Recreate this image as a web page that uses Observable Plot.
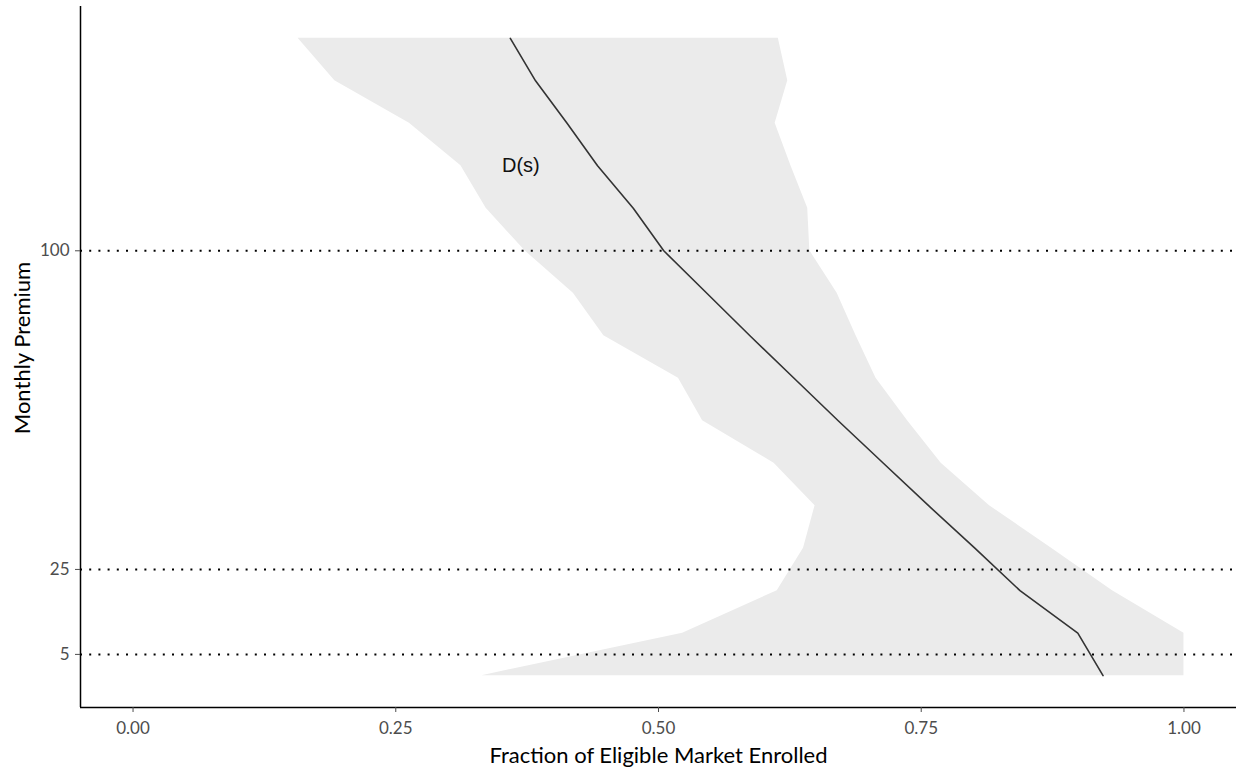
<!DOCTYPE html>
<html>
<head>
<meta charset="utf-8">
<script src="https://cdn.jsdelivr.net/npm/d3@7"></script>
<script src="https://cdn.jsdelivr.net/npm/@observablehq/plot@0.6"></script>
<style>
  html, body { margin: 0; padding: 0; background: #fff; }
  #chart svg { display: block; }
  #chart svg g[aria-label$="tick label"] text { font-size: 17px !important; }
</style>
</head>
<body>
<div id="chart"></div>
<script>
// Monthly premium levels (y)
const premium = [0, 10, 20, 30, 40, 50, 60, 70, 80, 90, 100, 110, 120, 130, 140, 150];
// Demand curve D(s): fraction enrolled at each premium
const demand = [0.923, 0.899, 0.844, 0.801, 0.757, 0.714, 0.671, 0.629, 0.587, 0.546, 0.505, 0.476, 0.442, 0.413, 0.383, 0.359];
// Confidence band lower / upper bounds
const bandLow = [0.332, 0.523, 0.613, 0.638, 0.649, 0.610, 0.542, 0.519, 0.448, 0.419, 0.373, 0.336, 0.312, 0.263, 0.192, 0.157];
const bandHigh = [1.000, 1.000, 0.932, 0.874, 0.815, 0.769, 0.737, 0.707, 0.688, 0.670, 0.644, 0.642, 0.626, 0.611, 0.623, 0.614];
// Reference premium lines
const refPremiums = [5, 25, 100];
// Axis ticks and labels
const xTicks = [0, 0.25, 0.5, 0.75, 1];
const yTicks = [5, 25, 100];
const curveLabel = [{x: 0.369, y: 120, text: "D(s)"}];
const xTitle = "Fraction of Eligible Market Enrolled";
const yTitle = "Monthly Premium";

const xDomain = [-0.05, 1.05];
const yDomain = [-7.5, 157.5];

const rows = premium.map((p, i) => ({premium: p, d: demand[i], lo: bandLow[i], hi: bandHigh[i]}));

const chart = Plot.plot({
  width: 1238,
  height: 767,
  marginLeft: 80,
  marginRight: 2,
  marginTop: 6,
  marginBottom: 60,
  style: {fontFamily: "Lato, 'Open Sans', sans-serif", fontSize: "17px", background: "#fff"},
  x: {domain: xDomain},
  y: {domain: yDomain},
  marks: [
    Plot.areaX(rows, {y: "premium", x1: "lo", x2: "hi", fill: "#ebebeb"}),
    Plot.ruleY(refPremiums, {stroke: "#000", strokeWidth: 2, strokeDasharray: "2,7.2"}),
    Plot.line(rows, {x: "d", y: "premium", stroke: "#333", strokeWidth: 1.6}),
    Plot.text(curveLabel, {x: "x", y: "y", text: "text", fontSize: 20, fill: "#111", fontFamily: "'Liberation Sans', Arial, sans-serif"}),
    Plot.ruleX([xDomain[0]], {stroke: "#000", strokeWidth: 1.5}),
    Plot.ruleY([yDomain[0]], {stroke: "#000", strokeWidth: 1.5}),
    Plot.axisX({ticks: xTicks, tickFormat: d3.format(".2f"), tickSize: 5, tickPadding: 9, fontSize: 17, color: "#4d4d4d", label: null}),
    Plot.axisY({ticks: yTicks, tickFormat: d => String(d), tickSize: 5, tickPadding: 6, fontSize: 17, color: "#4d4d4d", label: null}),
    Plot.text([xTitle], {frameAnchor: "bottom", lineAnchor: "bottom", dy: 55, fontSize: 22, fill: "#000"}),
    Plot.text([yTitle], {frameAnchor: "left", textAnchor: "middle", dx: -58, dy: -9, rotate: -90, fontSize: 22, fill: "#000"})
  ]
});
document.getElementById("chart").appendChild(chart);
</script>
</body>
</html>
